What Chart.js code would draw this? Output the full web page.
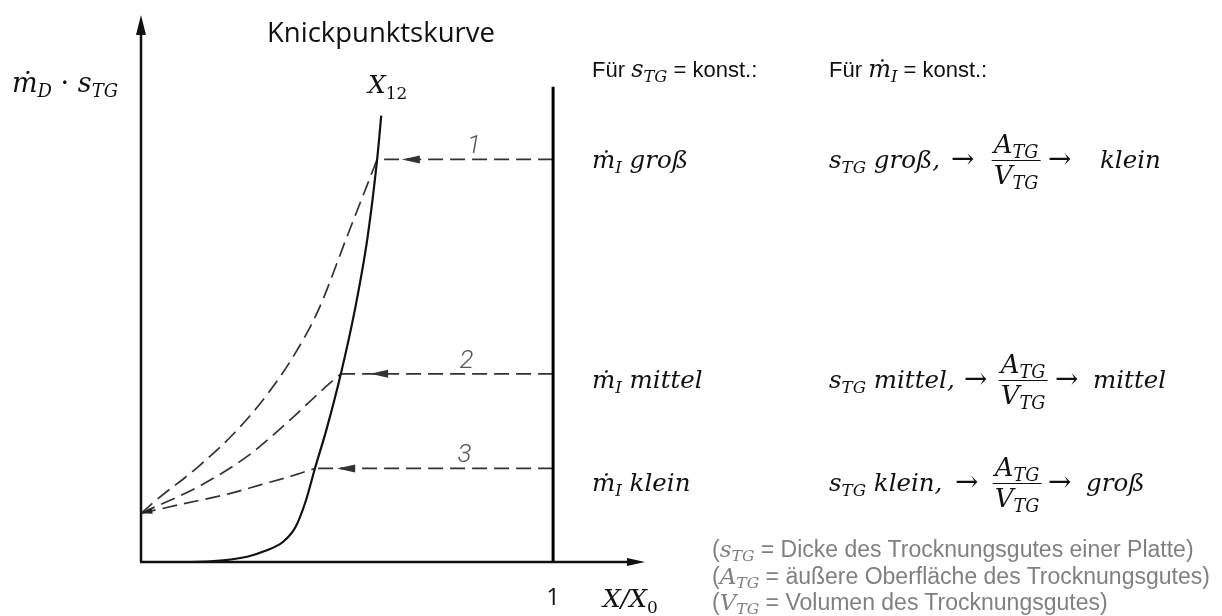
<!DOCTYPE html>
<html>
<head>
<meta charset="utf-8">
<script src="https://cdn.jsdelivr.net/npm/chart.js@4.4.1/dist/chart.umd.min.js"></script>
<style>
    body { margin: 0; background: #fff; }
    #wrap { position: relative; width: 1222px; height: 616px; overflow: hidden; }
    #chart { position: absolute; left: 0; top: 0; }
    .row { position: absolute; height: 0; display: flex; align-items: center; white-space: nowrap; }
    .c { transform: translateX(-50%); }
    .m { font-family: "DejaVu Serif", serif; font-style: italic; font-size: 24.5px; color: #111; line-height: 1.15; }
    .m sub { font-size: 0.68em; vertical-align: -0.28em; line-height: 0; }
    .arr { font-family: "DejaVu Serif", serif; font-size: 28px; color: #111; }
    .s { font-family: "Liberation Sans", Arial, sans-serif; font-size: 22px; color: #111; line-height: 1.2; }
    .s .m { font-size: 24px; }
    .note { font-family: "Liberation Sans", Arial, sans-serif; font-size: 23px; color: #808080; line-height: 1.15; }
    .note .m { font-size: 23px; color: #808080; }
    .frac { display: inline-flex; flex-direction: column; align-items: center; font-size: 26px; line-height: 1.1; }
    .frac .num { border-bottom: 1.5px solid #111; padding: 0 2px 1px; }
</style>
</head>
<body>
<div id="wrap">
    <canvas id="chart" width="1222" height="616"></canvas>

    <div class="row" style="left:592px;top:70px"><span class="s">Für <span class="m">s<sub>TG</sub></span> = konst.:</span></div>
    <div class="row" style="left:829px;top:70px"><span class="s">Für <span class="m">ṁ<sub>I</sub></span> = konst.:</span></div>

    <!-- groß -->
    <div class="row" style="left:592px;top:160px"><span class="m">ṁ<sub>I</sub> groß</span></div>
    <div class="row" style="left:829px;top:160px"><span class="m">s<sub>TG</sub> groß,</span></div>
    <div class="row" style="left:951px;top:158px"><span class="arr">→</span></div>
    <div class="row c" style="left:1016px;top:160px"><span class="m frac"><span class="num">A<sub>TG</sub></span><span>V<sub>TG</sub></span></span></div>
    <div class="row" style="left:1048px;top:158px"><span class="arr">→</span></div>
    <div class="row" style="left:1100px;top:160px"><span class="m">klein</span></div>

    <!-- mittel -->
    <div class="row" style="left:592px;top:380px"><span class="m">ṁ<sub>I</sub> mittel</span></div>
    <div class="row" style="left:829px;top:380px"><span class="m">s<sub>TG</sub> mittel,</span></div>
    <div class="row" style="left:964px;top:378px"><span class="arr">→</span></div>
    <div class="row c" style="left:1023px;top:380px"><span class="m frac"><span class="num">A<sub>TG</sub></span><span>V<sub>TG</sub></span></span></div>
    <div class="row" style="left:1055px;top:378px"><span class="arr">→</span></div>
    <div class="row" style="left:1093px;top:380px"><span class="m">mittel</span></div>

    <!-- klein -->
    <div class="row" style="left:592px;top:483px"><span class="m">ṁ<sub>I</sub> klein</span></div>
    <div class="row" style="left:829px;top:483px"><span class="m">s<sub>TG</sub> klein,</span></div>
    <div class="row" style="left:955px;top:481px"><span class="arr">→</span></div>
    <div class="row c" style="left:1017px;top:483px"><span class="m frac"><span class="num">A<sub>TG</sub></span><span>V<sub>TG</sub></span></span></div>
    <div class="row" style="left:1048px;top:481px"><span class="arr">→</span></div>
    <div class="row" style="left:1086px;top:483px"><span class="m">groß</span></div>

    <div class="row" style="left:712px;top:549px"><span class="note">(<span class="m">s<sub>TG</sub></span> = Dicke des Trocknungsgutes einer Platte)</span></div>
    <div class="row" style="left:712px;top:576px"><span class="note">(<span class="m">A<sub>TG</sub></span> = äußere Oberfläche des Trocknungsgutes)</span></div>
    <div class="row" style="left:712px;top:602px"><span class="note">(<span class="m">V<sub>TG</sub></span> = Volumen des Trocknungsgutes)</span></div>
</div>

<script>
// Knickpunktskurve (solid)
const knickX = [0, 0.12, 0.2, 0.26, 0.3, 0.345, 0.375, 0.40, 0.422, 0.45, 0.485, 0.52, 0.55, 0.573, 0.583];
const knickY = [0, 0, 0.03, 0.1, 0.2, 0.37, 0.64, 1.12, 1.71, 2.42, 3.44, 4.65, 5.95, 7.36, 8.16];

// drying curves 1..3 (dashed), all starting at the same point on the y axis
const curve1X = [0, 0.04, 0.14, 0.233, 0.308, 0.373, 0.43, 0.5, 0.573];
const curve1Y = [0.89, 1.15, 1.75, 2.41, 3.08, 3.8, 4.6, 5.95, 7.36];
const curve2X = [0, 0.14, 0.261, 0.362, 0.448, 0.485];
const curve2Y = [0.89, 1.38, 1.95, 2.6, 3.2, 3.44];
const curve3X = [0, 0.1, 0.215, 0.29, 0.36, 0.422];
const curve3Y = [0.89, 1.06, 1.25, 1.41, 1.56, 1.71];

// horizontal dashed lines from X/X0 = 1 to the Knickpunktskurve
const levelNames = ['1', '2', '3'];
const levelY = [7.36, 3.44, 1.71];
const levelHitX = [0.573, 0.485, 0.422];
const arrowTipX = [0.633, 0.556, 0.476];
const levelLabelX = [0.808, 0.79, 0.785];

const wallX = 1;
const wallTopY = 8.69;
const xMax = 1.223;
const yMax = 10;

const pts = (xs, ys) => xs.map((x, i) => ({ x: x, y: ys[i] }));

const dashStyle = {
    borderColor: '#333',
    borderWidth: 1.7,
    borderDash: [15, 7],
    pointRadius: 0,
    fill: false,
};

const datasets = [
    {
        label: 'Knickpunktskurve',
        data: pts(knickX, knickY),
        borderColor: '#111',
        borderWidth: 2.2,
        pointRadius: 0,
        cubicInterpolationMode: 'monotone',
    },
    { label: 'Kurve 1', data: pts(curve1X, curve1Y), cubicInterpolationMode: 'monotone', ...dashStyle },
    { label: 'Kurve 2', data: pts(curve2X, curve2Y), cubicInterpolationMode: 'monotone', ...dashStyle },
    { label: 'Kurve 3', data: pts(curve3X, curve3Y), cubicInterpolationMode: 'monotone', ...dashStyle },
    {
        label: 'X/X0 = 1',
        data: [{ x: wallX, y: 0 }, { x: wallX, y: wallTopY }],
        borderColor: '#000',
        borderWidth: 3,
        pointRadius: 0,
    },
];

levelY.forEach((y, i) => {
    datasets.push({
        label: 'Linie ' + levelNames[i],
        data: [{ x: wallX, y: y }, { x: levelHitX[i], y: y }],
        tension: 0,
        ...dashStyle,
    });
});

// draw a rich text made of [text, font, dy] parts
const drawRich = (ctx, x, y, parts) => {
    let cx = x;
    parts.forEach(([t, font, dy]) => {
        ctx.font = font;
        ctx.fillText(t, cx, y + (dy || 0));
        cx += ctx.measureText(t).width;
    });
};

const arrowHead = (ctx, tx, ty, dx, dy, len, half) => {
    // tip at (tx,ty), pointing in direction (dx,dy)
    const bx = tx - dx * len, by = ty - dy * len;
    ctx.beginPath();
    ctx.moveTo(tx, ty);
    ctx.lineTo(bx - dy * half, by + dx * half);
    ctx.lineTo(bx + dy * half, by - dx * half);
    ctx.closePath();
    ctx.fill();
};

const sketchPlugin = {
    id: 'sketch',
    afterDatasetsDraw(chart) {
        const ctx = chart.ctx;
        const xs = chart.scales.x, ys = chart.scales.y;
        const x0 = xs.getPixelForValue(0), y0 = ys.getPixelForValue(0);
        const xEnd = xs.getPixelForValue(xMax), yTop = ys.getPixelForValue(yMax);

        ctx.save();
        ctx.strokeStyle = '#111';
        ctx.fillStyle = '#111';
        ctx.lineWidth = 2.5;
        ctx.setLineDash([]);

        // axes
        ctx.beginPath();
        ctx.moveTo(x0, y0);
        ctx.lineTo(x0, yTop + 12);
        ctx.moveTo(x0 - 1, y0);
        ctx.lineTo(xEnd - 12, y0);
        ctx.stroke();
        arrowHead(ctx, x0, yTop, 0, -1, 20, 5);
        arrowHead(ctx, xEnd, y0, 1, 0, 18, 4);

        // arrow heads on the horizontal lines
        ctx.fillStyle = '#333';
        arrowTipX.forEach((ax, i) => {
            arrowHead(ctx, xs.getPixelForValue(ax), ys.getPixelForValue(levelY[i]), -1, 0, 18, 4);
        });

        // small arrow at the common start point
        ctx.fillStyle = '#222';
        arrowHead(ctx, x0 + 1, ys.getPixelForValue(curve1Y[0]), -1, 0.25, 10, 3);

        // texts
        const M = 'italic 27px "DejaVu Serif"';
        const Ms = 'italic 18px "DejaVu Serif"';
        const U = '27px "DejaVu Serif"';
        const M2 = 'italic 25px "DejaVu Serif"';
        const Us = '17px "DejaVu Serif"';
        ctx.fillStyle = '#111';
        ctx.textAlign = 'left';
        ctx.textBaseline = 'alphabetic';

        ctx.font = '27.5px "Open Sans"';
        ctx.fillText('Knickpunktskurve', 267, 42);

        drawRich(ctx, 12, 92, [['ṁ', M], ['D', Ms, 5], [' · ', U], ['s', M], ['TG', Ms, 5]]);
        drawRich(ctx, 368, 93, [['X', M2], ['12', Us, 6]]);
        drawRich(ctx, 603, 607, [['X/X', M2], ['0', Us, 6]]);

        ctx.textAlign = 'center';
        ctx.font = '24px "Open Sans"';
        ctx.fillText('1', xs.getPixelForValue(wallX), 605);

        ctx.fillStyle = '#555';
        ctx.font = 'italic 300 26px Roboto';
        levelNames.forEach((name, i) => {
            ctx.fillText(name, xs.getPixelForValue(levelLabelX[i]), ys.getPixelForValue(levelY[i]) - 6);
        });
        ctx.restore();
    },
};

new Chart(document.getElementById('chart'), {
    type: 'line',
    data: { datasets: datasets },
    options: {
        responsive: false,
        animation: false,
        events: [],
        layout: { padding: { left: 141, right: 577, top: 15, bottom: 54 } },
        plugins: {
            legend: { display: false },
            tooltip: { enabled: false },
        },
        scales: {
            x: { type: 'linear', min: 0, max: xMax, display: false },
            y: { type: 'linear', min: 0, max: yMax, display: false },
        },
    },
    plugins: [sketchPlugin],
});
</script>
</body>
</html>
